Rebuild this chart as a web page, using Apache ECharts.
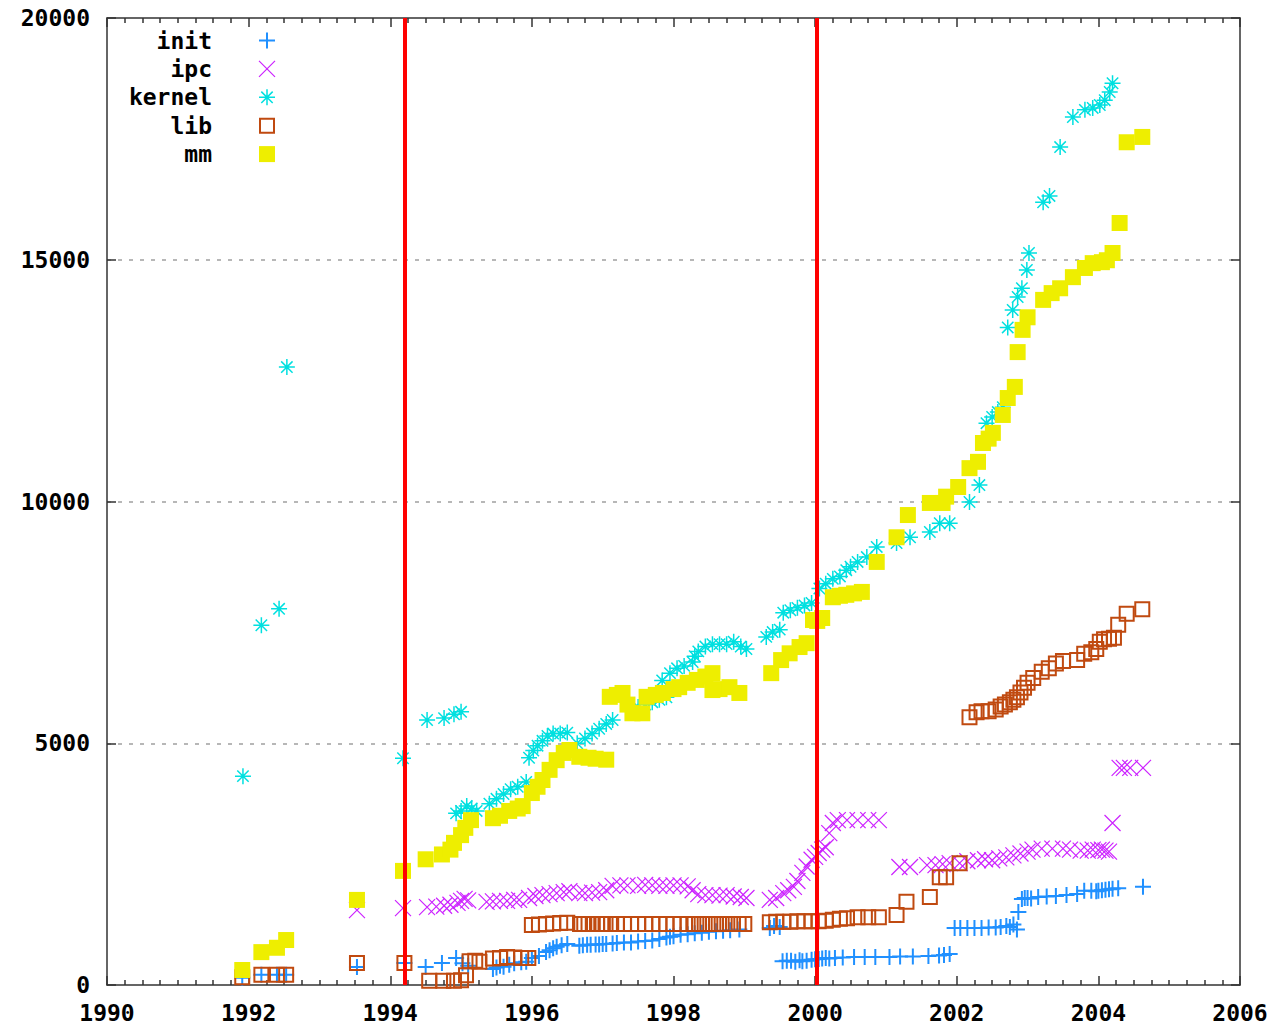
<!DOCTYPE html>
<html><head><meta charset="utf-8">
<script src="https://cdn.jsdelivr.net/npm/echarts@6/dist/echarts.min.js"></script>
<style>html,body{margin:0;padding:0;background:#fff}#c{width:1272px;height:1030px}</style>
</head><body><div id="c"></div>
<script>
const seriesNames = ['init', 'ipc', 'kernel', 'lib', 'mm'];
const xTickLabels = ['1990','1992','1994','1996','1998','2000','2002','2004','2006'];
const yTickLabels = ['0','5000','10000','15000','20000'];
const versionLines = [1994.2, 2000.03];

const initPoints = [
[1991.91,150],[1992.18,210],[1992.40,210],[1992.53,210],[1993.53,370],[1994.20,455],[1994.50,370],[1994.73,455],[1994.93,560],[1995.02,450],[1995.10,400],
[1995.45,330],[1995.50,360],[1995.55,400],[1995.60,380],[1995.68,420],[1995.75,450],[1995.85,470],[1995.92,480],[1996.00,560],[1996.10,600],[1996.20,680],[1996.25,720],[1996.30,760],[1996.35,790],[1996.42,820],[1996.50,850],
[1996.67,810],[1996.72,820],[1996.78,830],[1996.83,830],[1996.90,840],[1996.95,840],[1997.00,850],[1997.05,850],[1997.14,860],[1997.20,870],[1997.30,880],[1997.40,880],[1997.50,900],[1997.60,910],[1997.70,920],[1997.80,950],[1997.90,980],[1997.95,1000],[1998.00,1010],[1998.10,1040],[1998.20,1050],[1998.30,1070],[1998.40,1080],[1998.50,1100],[1998.60,1110],[1998.70,1120],[1998.80,1130],[1998.93,1150],
[1999.36,1180],[1999.42,1220],[1999.50,1200],
[1999.54,490],[1999.60,500],[1999.66,500],[1999.72,480],[1999.78,510],[1999.82,490],[1999.88,500],[1999.95,520],[2000.00,530],[2000.05,540],[2000.10,550],[2000.15,560],[2000.20,550],[2000.28,560],[2000.39,570],[2000.55,580],[2000.70,580],[2000.85,580],[2001.05,580],[2001.20,590],[2001.38,590],[2001.60,600],[2001.75,610],[2001.82,620],[2001.90,640],
[2001.97,1180],[2002.05,1180],[2002.15,1180],[2002.25,1180],[2002.35,1180],[2002.45,1190],[2002.55,1190],[2002.62,1200],[2002.70,1220],[2002.75,1200],[2002.80,1250],[2002.85,1150],[2002.87,1510],[2002.92,1780],[2002.96,1800],[2003.00,1800],[2003.05,1790],[2003.15,1820],[2003.27,1830],[2003.40,1840],[2003.55,1860],[2003.70,1880],[2003.80,1950],[2003.90,1950],[2003.97,1940],[2004.00,1950],[2004.05,1960],[2004.10,1970],[2004.15,1980],[2004.20,1990],[2004.28,2000],[2004.63,2030]
];

const ipcPoints = [
[1993.53,1550],[1994.18,1590],[1994.52,1610],[1994.65,1620],[1994.76,1640],[1994.85,1660],[1994.95,1700],[1995.00,1740],[1995.05,1780],[1995.10,1750],
[1995.36,1720],[1995.45,1730],[1995.55,1740],[1995.65,1740],[1995.75,1760],[1995.82,1760],[1995.96,1800],[1996.05,1840],[1996.15,1860],[1996.25,1880],[1996.35,1900],[1996.45,1920],[1996.53,1940],
[1996.67,1900],[1996.75,1900],[1996.85,1910],[1996.95,1920],[1997.05,1960],[1997.14,2050],[1997.25,2060],[1997.35,2060],[1997.50,2050],[1997.60,2070],[1997.70,2060],[1997.80,2050],[1997.90,2050],[1998.00,2060],[1998.10,2060],[1998.20,2040],[1998.27,1960],[1998.35,1880],[1998.45,1860],[1998.55,1860],[1998.65,1850],[1998.75,1860],[1998.85,1830],[1998.95,1820],[1999.03,1800],
[1999.36,1760],[1999.45,1800],[1999.55,1900],[1999.62,1960],[1999.70,2030],[1999.75,2150],[1999.82,2320],[1999.88,2450],[1999.95,2590],[2000.00,2650],[2000.05,2730],[2000.10,2800],[2000.15,2850],[2000.20,3140],[2000.25,3350],[2000.32,3410],[2000.45,3410],[2000.60,3410],[2000.75,3410],[2000.90,3410],
[2001.19,2440],[2001.34,2440],[2001.58,2480],[2001.70,2480],[2001.80,2500],[2001.90,2520],[2002.04,2520],[2002.15,2560],[2002.30,2580],[2002.40,2600],[2002.50,2580],[2002.60,2620],[2002.70,2640],[2002.80,2680],[2002.90,2720],[2003.00,2760],[2003.07,2800],[2003.20,2820],[2003.35,2820],[2003.50,2820],[2003.60,2800],[2003.75,2780],[2003.85,2780],[2003.92,2800],[2004.00,2790],[2004.05,2800],[2004.10,2780],[2004.15,2760],[2004.20,3350],[2004.30,4490],[2004.36,4490],[2004.45,4490],[2004.63,4490]
];

const kernelPoints = [
[1991.92,4320],[1992.18,7440],[1992.43,7780],[1992.54,12780],[1994.18,4690],[1994.52,5480],[1994.76,5520],[1994.90,5600],[1995.00,5650],
[1994.93,3550],[1995.00,3600],[1995.08,3700],[1995.15,3650],[1995.22,3600],
[1995.40,3750],[1995.50,3850],[1995.60,3950],[1995.70,4050],[1995.80,4100],[1995.92,4200],
[1995.96,4700],[1996.02,4850],[1996.08,4950],[1996.15,5050],[1996.22,5150],[1996.30,5200],[1996.40,5200],[1996.50,5220],
[1996.64,5000],[1996.75,5100],[1996.85,5200],[1996.95,5300],[1997.05,5400],[1997.14,5480],
[1997.50,5750],[1997.60,5800],[1997.70,5850],[1997.80,5900],[1997.90,5950],
[1997.84,6300],[1997.95,6450],[1998.05,6550],[1998.15,6600],[1998.27,6680],
[1998.30,6800],[1998.35,6900],[1998.45,7000],[1998.55,7050],[1998.65,7050],[1998.75,7050],[1998.85,7100],[1998.95,7000],[1999.03,6950],
[1999.31,7200],[1999.40,7300],[1999.50,7350],[1999.55,7700],[1999.65,7750],[1999.75,7800],[1999.85,7850],[1999.95,7900],[2000.06,8200],[2000.15,8300],[2000.25,8400],[2000.35,8450],[2000.44,8580],[2000.50,8650],[2000.60,8750],[2000.73,8850],[2000.87,9060],[2001.15,9140],[2001.34,9260],[2001.62,9370],[2001.76,9550],[2001.90,9550],[2002.18,9990],[2002.32,10340],
[2002.42,11620],[2002.50,11750],[2002.58,11850],[2002.65,11950],[2002.72,13600],[2002.79,13960],[2002.86,14230],[2002.92,14410],[2002.99,14790],[2003.02,15140],[2003.22,16190],[2003.31,16320],[2003.46,17330],[2003.64,17950],[2003.81,18100],[2003.92,18140],[2004.02,18200],[2004.09,18300],[2004.16,18470],[2004.20,18650]
];

const libPoints = [
[1991.91,160],[1992.18,210],[1992.40,210],[1992.53,210],[1993.53,455],[1994.20,455],
[1994.55,90],[1994.75,90],[1994.90,90],[1995.00,100],[1995.07,200],[1995.12,490],[1995.20,500],[1995.26,480],
[1995.45,550],[1995.55,560],[1995.65,580],[1995.75,570],[1995.85,560],[1995.95,560],
[1996.00,1240],[1996.10,1250],[1996.20,1260],[1996.30,1270],[1996.40,1280],[1996.50,1290],
[1996.68,1260],[1996.74,1260],[1996.80,1260],[1996.86,1260],[1996.92,1260],[1996.98,1260],[1997.04,1260],[1997.12,1260],[1997.20,1260],[1997.30,1260],[1997.40,1260],[1997.50,1260],[1997.60,1260],[1997.70,1260],[1997.80,1260],[1997.90,1260],[1998.00,1260],[1998.10,1260],[1998.20,1260],[1998.28,1260],[1998.36,1260],[1998.44,1260],[1998.52,1260],[1998.60,1260],[1998.68,1260],[1998.76,1260],[1998.84,1260],[1998.92,1260],[1999.00,1260],
[1999.36,1300],[1999.45,1310],[1999.55,1310],[1999.65,1310],[1999.75,1320],[1999.85,1320],[1999.95,1320],[2000.05,1320],[2000.15,1330],[2000.25,1350],[2000.35,1370],[2000.45,1380],[2000.60,1400],[2000.75,1400],[2000.90,1400],[2001.15,1450],[2001.29,1720],[2001.62,1820],[2001.76,2230],[2001.85,2230],[2002.04,2520],
[2002.18,5540],[2002.28,5640],[2002.35,5660],[2002.45,5660],[2002.55,5700],[2002.62,5760],[2002.68,5800],[2002.75,5850],[2002.80,5900],[2002.85,5950],[2002.90,6050],[2002.95,6150],[2003.00,6250],[2003.08,6350],[2003.20,6480],[2003.30,6550],[2003.40,6650],[2003.50,6700],[2003.70,6720],[2003.80,6850],[2003.90,6880],[2003.97,6950],[2004.02,7100],[2004.08,7150],[2004.15,7160],[2004.22,7180],[2004.28,7450],[2004.40,7680],[2004.62,7770]
];

const mmPoints = [
[1991.91,310],[1992.18,680],[1992.40,770],[1992.53,930],[1993.53,1760],[1994.18,2360],[1994.50,2600],[1994.73,2700],[1994.85,2800],[1994.90,2940],[1995.00,3100],[1995.06,3250],[1995.14,3410],
[1995.45,3450],[1995.55,3500],[1995.68,3600],[1995.80,3650],[1995.87,3700],[1996.00,3970],[1996.08,4100],[1996.15,4240],[1996.25,4450],[1996.35,4650],[1996.45,4800],[1996.53,4860],
[1996.67,4720],[1996.80,4700],[1996.90,4680],[1997.05,4660],
[1997.10,5960],[1997.20,6000],[1997.28,6040],[1997.35,5800],[1997.42,5620],[1997.56,5620],[1997.62,5960],[1997.75,6000],[1997.85,6040],[1998.00,6120],[1998.08,6160],[1998.20,6250],[1998.33,6310],[1998.45,6380],[1998.55,6450],[1998.55,6100],[1998.65,6120],[1998.79,6160],[1998.93,6040],
[1999.38,6450],[1999.52,6720],[1999.64,6860],[1999.78,6990],[1999.88,7070],[1999.97,7550],[2000.03,7530],[2000.10,7590],[2000.25,8020],[2000.35,8050],[2000.44,8070],[2000.55,8100],[2000.66,8130],[2000.87,8750],[2001.15,9260],[2001.31,9720],[2001.62,9970],[2001.80,9970],[2001.85,10100],[2002.02,10300],[2002.18,10690],[2002.30,10820],[2002.37,11210],[2002.45,11300],[2002.51,11420],[2002.65,11790],[2002.72,12140],[2002.82,12370],[2002.86,13090],[2002.93,13550],[2003.00,13810],[2003.22,14170],[2003.34,14310],[2003.46,14410],[2003.64,14640],[2003.81,14830],[2003.92,14930],[2004.05,14950],[2004.12,14990],[2004.20,15140],[2004.30,15760],[2004.40,17430],[2004.62,17540]
];

const colors = {init:'#2090ff', ipc:'#cc22ff', kernel:'#00e0e0', lib:'#c04a10', mm:'#eeee00'};
const symbols = {
  init: 'path://M0,8H16M8,0V16',
  ipc: 'path://M0,0L16,16M0,16L16,0',
  kernel: 'path://M0,8H16M8,0V16M2.3,2.3L13.7,13.7M2.3,13.7L13.7,2.3',
  lib: 'path://M0,0H16V16H0Z M2,2V14H14V2Z',
  mm: 'path://M0,0H16V16H0Z'
};
const strokeW = {init:2, ipc:1.2, kernel:1.5, lib:0, mm:0};
const pointSets = {init:initPoints, ipc:ipcPoints, kernel:kernelPoints, lib:libPoints, mm:mmPoints};

const FONT = 'DejaVu Sans Mono';
const axisColor = '#333';
function xAxisCfg(pos, showLabel) {
  return {
    type:'value', position:pos, min:1990, max:2006, interval:2,
    axisLine:{show:true, onZero:false, lineStyle:{color:axisColor, width:1.5}},
    axisTick:{show:true, inside:true, length:9, lineStyle:{color:axisColor, width:1.5}},
    minorTick:{show:true, splitNumber:8, length:5, lineStyle:{color:axisColor, width:1.5}},
    axisLabel:{show:showLabel, margin:16, color:'#000', fontFamily:FONT, fontWeight:'bold', fontSize:23,
      formatter:(v)=>xTickLabels[Math.round((v-1990)/2)]},
    splitLine:{show:false}
  };
}
function yAxisCfg(pos, showLabel) {
  return {
    type:'value', position:pos, min:0, max:20000, interval:5000,
    axisLine:{show:true, onZero:false, lineStyle:{color:axisColor, width:1.5}},
    axisTick:{show:true, inside:true, length:9, lineStyle:{color:axisColor, width:1.5}},
    axisLabel:{show:showLabel, margin:17, color:'#000', fontFamily:FONT, fontWeight:'bold', fontSize:23,
      formatter:(v)=>yTickLabels[Math.round(v/5000)]},
    splitLine:{show:showLabel, showMinLine:false, showMaxLine:false, lineStyle:{color:'#a0a0a0', width:1.5, type:[4,7]}}
  };
}

const series = seriesNames.map(n => ({
  name:n, type:'scatter', xAxisIndex:0, yAxisIndex:0,
  data: pointSets[n], symbol: symbols[n], symbolSize:16, symbolKeepAspect:true,
  itemStyle:{color:colors[n], borderColor:colors[n], borderWidth:strokeW[n], opacity:1},
  emphasis:{disabled:true}, silent:true, animation:false
}));
series.push({
  name:'versions', type:'line', data:[], xAxisIndex:0, yAxisIndex:0, z:10, silent:true, animation:false,
  markLine:{symbol:'none', silent:true, animation:false, label:{show:false},
    lineStyle:{color:'#ff0000', width:4, type:'solid'},
    data: versionLines.map(v => ({xAxis:v}))}
});

const chart = echarts.init(document.getElementById('c'), null, {renderer:'svg'});
chart.setOption({
  backgroundColor:'#ffffff',
  animation:false,
  grid:{left:107, right:32, top:18, bottom:45, containLabel:false},
  xAxis:[xAxisCfg('bottom', true), xAxisCfg('top', false)],
  yAxis:[yAxisCfg('left', true), yAxisCfg('right', false)],
  legend:{
    show:true, orient:'vertical', left:112, top:29, padding:0, align:'right',
    itemWidth:100, itemHeight:16, itemGap:5.4, symbolKeepAspect:true, selectedMode:false,
    textStyle:{fontFamily:FONT, fontWeight:'bold', fontSize:23, color:'#000', width:100, align:'right', lineHeight:16},
    data: seriesNames.map(n => ({name:n, icon:symbols[n],
      itemStyle:{color:colors[n], borderColor:colors[n], borderWidth:strokeW[n]}}))
  },
  series: series
});
</script>
</body></html>
